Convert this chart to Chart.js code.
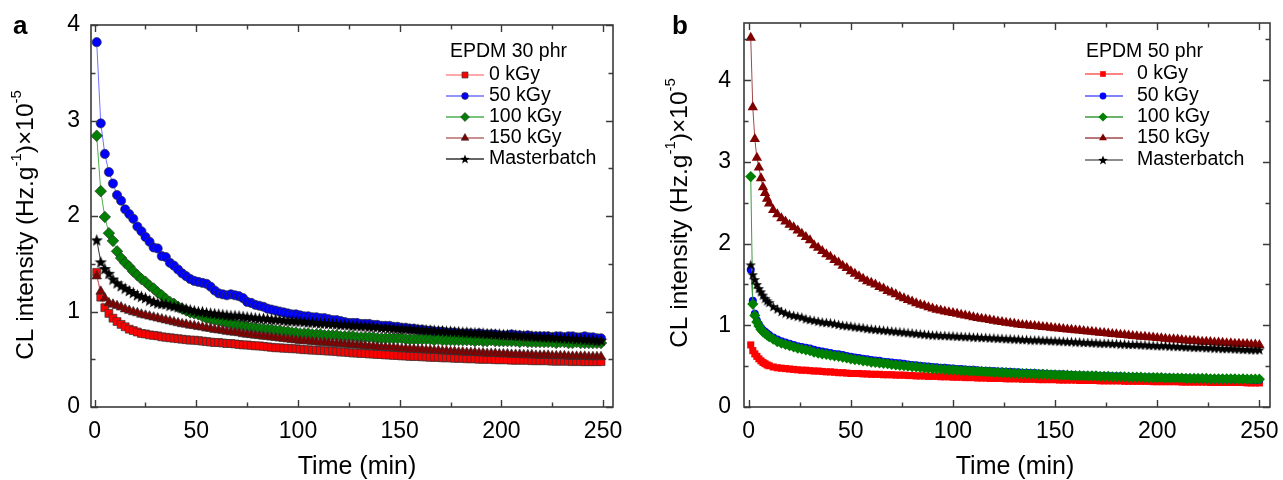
<!DOCTYPE html>
<html>
<head>
<meta charset="utf-8">
<script src="https://cdn.jsdelivr.net/npm/chart.js@4.4.0/dist/chart.umd.min.js"></script>
<style>
  body { margin: 0; background: #fff; }
  #wrap { position: relative; width: 1283px; height: 480px; }
  canvas { position: absolute; top: 0; }
  #calA { left: 0; }
  #calB { left: 640px; }
</style>
</head>
<body>
<div id="wrap">
  <canvas id="calA" width="640" height="480"></canvas>
  <canvas id="calB" width="643" height="480"></canvas>
</div>
<script>
// ---- data (CL intensity x1e-5, Hz/g) ----
const seriesNames = ['0 kGy', '50 kGy', '100 kGy', '150 kGy', 'Masterbatch'];

// panel a : EPDM 30 phr
const timesA = [1,3,5,7,9,11,13,15,17,19,
  21,23,25,27,29,31,33,35,37,39,
  41,43,45,47,49,51,53,55,57,59,
  61,63,65,67,69,71,73,75,77,79,
  81,83,85,87,89,91,93,95,97,99,
  101,103,105,107,109,111,113,115,117,119,
  121,123,125,127,129,131,133,135,137,139,
  141,143,145,147,149,151,153,155,157,159,
  161,163,165,167,169,171,173,175,177,179,
  181,183,185,187,189,191,193,195,197,199,
  201,203,205,207,209,211,213,215,217,219,
  221,223,225,227,229,231,233,235,237,239,
  241,243,245,247,249];

const kGy0A = [1.41,1.15,1.04,0.98,0.93,0.895,0.865,0.84,0.815,0.80,
  0.785,0.77,0.765,0.755,0.75,0.745,0.735,0.73,0.725,0.72,
  0.715,0.71,0.705,0.70,0.70,0.695,0.69,0.685,0.68,0.675,
  0.675,0.67,0.665,0.665,0.66,0.655,0.65,0.65,0.645,0.64,
  0.64,0.635,0.63,0.625,0.62,0.62,0.615,0.615,0.61,0.61,
  0.605,0.60,0.60,0.595,0.595,0.59,0.59,0.585,0.585,0.58,
  0.575,0.575,0.57,0.565,0.565,0.56,0.56,0.555,0.555,0.55,
  0.55,0.545,0.545,0.54,0.54,0.535,0.535,0.53,0.53,0.53,
  0.525,0.525,0.52,0.52,0.52,0.515,0.515,0.515,0.51,0.51,
  0.51,0.505,0.505,0.505,0.50,0.50,0.50,0.50,0.495,0.495,
  0.495,0.495,0.49,0.49,0.49,0.49,0.49,0.485,0.485,0.485,
  0.485,0.485,0.48,0.48,0.48,0.48,0.48,0.475,0.48,0.475,
  0.475,0.475,0.475,0.475,0.475];

const kGy50A = [3.82,2.97,2.65,2.46,2.34,2.22,2.16,2.07,2.02,1.97,
  1.89,1.84,1.78,1.73,1.67,1.66,1.58,1.57,1.51,1.48,
  1.44,1.40,1.37,1.34,1.32,1.31,1.30,1.29,1.26,1.22,
  1.19,1.18,1.17,1.18,1.17,1.16,1.14,1.10,1.09,1.07,
  1.06,1.05,1.03,1.02,1.01,1.00,0.99,0.98,0.97,0.97,
  0.96,0.95,0.95,0.94,0.94,0.93,0.93,0.92,0.91,0.91,
  0.90,0.89,0.88,0.88,0.88,0.87,0.87,0.87,0.86,0.86,
  0.85,0.85,0.85,0.84,0.84,0.83,0.83,0.82,0.82,0.81,
  0.81,0.80,0.80,0.79,0.79,0.79,0.78,0.78,0.78,0.77,
  0.77,0.77,0.77,0.76,0.77,0.76,0.76,0.76,0.76,0.75,
  0.75,0.75,0.76,0.75,0.75,0.74,0.75,0.74,0.74,0.74,
  0.74,0.74,0.73,0.74,0.74,0.73,0.74,0.74,0.73,0.73,
  0.74,0.73,0.73,0.72,0.72];

const kGy100A = [2.84,2.26,1.99,1.82,1.74,1.63,1.56,1.51,1.47,1.42,
  1.38,1.34,1.31,1.27,1.24,1.20,1.17,1.13,1.10,1.08,
  1.05,1.03,1.01,0.99,0.98,0.97,0.95,0.93,0.92,0.91,
  0.90,0.89,0.88,0.87,0.86,0.85,0.85,0.84,0.83,0.83,
  0.82,0.82,0.81,0.81,0.80,0.80,0.79,0.79,0.78,0.78,
  0.77,0.77,0.77,0.76,0.76,0.76,0.75,0.75,0.75,0.75,
  0.74,0.74,0.74,0.74,0.73,0.73,0.73,0.73,0.73,0.72,
  0.72,0.72,0.72,0.72,0.72,0.72,0.71,0.71,0.71,0.71,
  0.71,0.71,0.71,0.70,0.71,0.70,0.70,0.70,0.70,0.70,
  0.70,0.70,0.70,0.69,0.70,0.69,0.69,0.70,0.69,0.69,
  0.69,0.69,0.69,0.69,0.68,0.69,0.68,0.68,0.68,0.68,
  0.68,0.68,0.68,0.67,0.68,0.68,0.67,0.67,0.68,0.67,
  0.67,0.67,0.67,0.67,0.67];

const kGy150A = [1.37,1.21,1.14,1.09,1.075,1.06,1.045,1.025,1.01,0.995,
  0.985,0.97,0.96,0.95,0.94,0.93,0.92,0.91,0.90,0.89,
  0.88,0.87,0.865,0.855,0.85,0.84,0.835,0.825,0.82,0.81,
  0.805,0.80,0.79,0.785,0.78,0.775,0.765,0.76,0.755,0.75,
  0.745,0.74,0.735,0.73,0.725,0.72,0.715,0.71,0.705,0.70,
  0.695,0.69,0.69,0.685,0.68,0.675,0.675,0.67,0.665,0.665,
  0.66,0.655,0.655,0.65,0.645,0.645,0.64,0.635,0.635,0.63,
  0.625,0.625,0.62,0.62,0.615,0.61,0.61,0.605,0.605,0.60,
  0.60,0.595,0.595,0.59,0.59,0.585,0.585,0.58,0.58,0.575,
  0.575,0.57,0.57,0.57,0.565,0.565,0.56,0.56,0.56,0.555,
  0.555,0.555,0.55,0.55,0.55,0.545,0.545,0.545,0.54,0.54,
  0.54,0.54,0.535,0.535,0.535,0.535,0.53,0.53,0.53,0.53,
  0.53,0.525,0.525,0.525,0.525];

const masterA = [1.75,1.52,1.45,1.40,1.34,1.30,1.27,1.245,1.22,1.20,
  1.175,1.16,1.145,1.12,1.105,1.09,1.085,1.08,1.065,1.06,
  1.05,1.04,1.03,1.02,1.01,1.00,1.00,0.99,0.985,0.98,
  0.975,0.97,0.965,0.96,0.96,0.955,0.95,0.945,0.94,0.935,
  0.93,0.93,0.925,0.92,0.92,0.915,0.91,0.905,0.905,0.90,
  0.90,0.895,0.89,0.89,0.885,0.88,0.88,0.875,0.875,0.87,
  0.865,0.865,0.86,0.855,0.855,0.85,0.85,0.845,0.845,0.84,
  0.835,0.835,0.83,0.83,0.825,0.825,0.82,0.82,0.815,0.815,
  0.81,0.81,0.805,0.805,0.80,0.80,0.795,0.795,0.79,0.79,
  0.785,0.785,0.78,0.78,0.775,0.775,0.77,0.77,0.765,0.765,
  0.76,0.76,0.755,0.755,0.75,0.75,0.745,0.745,0.74,0.74,
  0.735,0.735,0.73,0.73,0.725,0.725,0.72,0.72,0.715,0.715,
  0.71,0.71,0.705,0.70,0.70];

// panel b : EPDM 50 phr
const timesB = [1,2,3,4,5,6,7,8,9,10,
  12,14,16,18,20,22,24,26,28,30,
  32,34,36,38,40,42,44,46,48,50,
  52,54,56,58,60,62,64,66,68,70,
  72,74,76,78,80,82,84,86,88,90,
  92,94,96,98,100,102,104,106,108,110,
  112,114,116,118,120,122,124,126,128,130,
  132,134,136,138,140,142,144,146,148,150,
  152,154,156,158,160,162,164,166,168,170,
  172,174,176,178,180,182,184,186,188,190,
  192,194,196,198,200,202,204,206,208,210,
  212,214,216,218,220,222,224,226,228,230,
  232,234,236,238,240,242,244,246,248,250];

const kGy0B = [0.76,0.69,0.65,0.62,0.59,0.565,0.545,0.53,0.515,0.505,
  0.49,0.48,0.475,0.47,0.465,0.46,0.455,0.45,0.45,0.445,
  0.44,0.44,0.435,0.43,0.43,0.425,0.42,0.42,0.415,0.41,
  0.41,0.41,0.405,0.405,0.40,0.40,0.40,0.395,0.395,0.395,
  0.39,0.39,0.39,0.385,0.385,0.38,0.38,0.38,0.375,0.375,
  0.375,0.37,0.37,0.37,0.365,0.365,0.365,0.36,0.36,0.36,
  0.355,0.355,0.355,0.35,0.35,0.35,0.35,0.345,0.345,0.345,
  0.345,0.34,0.34,0.34,0.34,0.335,0.335,0.335,0.335,0.335,
  0.33,0.33,0.33,0.33,0.33,0.325,0.325,0.325,0.325,0.325,
  0.32,0.32,0.32,0.32,0.32,0.32,0.315,0.315,0.315,0.315,
  0.315,0.315,0.315,0.31,0.31,0.31,0.31,0.31,0.31,0.31,
  0.305,0.305,0.305,0.305,0.305,0.305,0.305,0.30,0.30,0.30,
  0.30,0.30,0.30,0.30,0.30,0.30,0.295,0.295,0.295,0.295];

const kGy50B = [1.68,1.30,1.14,1.06,1.01,0.97,0.94,0.92,0.90,0.88,
  0.85,0.825,0.805,0.79,0.775,0.76,0.745,0.735,0.725,0.715,
  0.70,0.69,0.68,0.67,0.66,0.65,0.645,0.635,0.625,0.615,
  0.605,0.60,0.59,0.585,0.575,0.57,0.565,0.555,0.55,0.545,
  0.54,0.535,0.53,0.52,0.515,0.51,0.505,0.50,0.495,0.49,
  0.485,0.48,0.48,0.475,0.47,0.465,0.465,0.46,0.455,0.455,
  0.45,0.445,0.445,0.44,0.44,0.435,0.435,0.43,0.43,0.425,
  0.425,0.42,0.42,0.415,0.415,0.41,0.41,0.405,0.405,0.40,
  0.40,0.40,0.395,0.395,0.39,0.39,0.39,0.385,0.385,0.385,
  0.38,0.38,0.38,0.375,0.375,0.375,0.37,0.37,0.37,0.37,
  0.365,0.365,0.365,0.365,0.36,0.36,0.36,0.36,0.355,0.355,
  0.355,0.355,0.35,0.35,0.35,0.35,0.35,0.345,0.345,0.345,
  0.345,0.345,0.34,0.34,0.34,0.34,0.34,0.335,0.335,0.335];

const kGy100B = [2.82,1.26,1.12,1.04,0.99,0.95,0.92,0.90,0.88,0.86,
  0.83,0.80,0.78,0.765,0.75,0.735,0.72,0.71,0.70,0.69,
  0.67,0.66,0.65,0.645,0.635,0.625,0.62,0.61,0.60,0.59,
  0.58,0.575,0.565,0.56,0.55,0.545,0.54,0.535,0.53,0.52,
  0.515,0.51,0.505,0.50,0.495,0.49,0.485,0.48,0.475,0.47,
  0.465,0.465,0.46,0.455,0.455,0.45,0.445,0.445,0.44,0.44,
  0.435,0.435,0.43,0.43,0.425,0.425,0.42,0.42,0.415,0.415,
  0.41,0.41,0.41,0.405,0.405,0.40,0.40,0.40,0.395,0.395,
  0.39,0.39,0.39,0.385,0.385,0.385,0.38,0.38,0.38,0.38,
  0.375,0.375,0.375,0.37,0.37,0.37,0.37,0.365,0.365,0.365,
  0.365,0.36,0.36,0.36,0.36,0.36,0.355,0.355,0.355,0.355,
  0.355,0.35,0.35,0.35,0.35,0.35,0.35,0.345,0.345,0.345,
  0.345,0.345,0.345,0.345,0.34,0.345,0.34,0.34,0.34,0.34];

const kGy150B = [4.52,3.67,3.28,3.05,2.93,2.80,2.69,2.62,2.55,2.49,
  2.41,2.36,2.31,2.27,2.23,2.20,2.16,2.12,2.08,2.04,
  1.98,1.95,1.91,1.87,1.84,1.80,1.77,1.73,1.70,1.66,
  1.63,1.60,1.57,1.54,1.52,1.50,1.47,1.45,1.42,1.40,
  1.38,1.35,1.33,1.31,1.29,1.27,1.25,1.24,1.22,1.205,
  1.19,1.18,1.17,1.16,1.15,1.14,1.13,1.12,1.11,1.10,
  1.09,1.08,1.075,1.065,1.055,1.045,1.04,1.03,1.025,1.02,
  1.01,1.005,1.00,0.995,0.99,0.985,0.98,0.975,0.97,0.965,
  0.96,0.955,0.95,0.945,0.94,0.935,0.93,0.925,0.92,0.915,
  0.91,0.905,0.90,0.895,0.89,0.885,0.88,0.875,0.87,0.865,
  0.86,0.86,0.855,0.85,0.845,0.84,0.835,0.83,0.83,0.825,
  0.82,0.815,0.81,0.81,0.805,0.80,0.80,0.795,0.79,0.79,
  0.785,0.78,0.78,0.775,0.775,0.77,0.77,0.765,0.765,0.76];

const masterB = [1.74,1.62,1.56,1.50,1.45,1.41,1.37,1.33,1.30,1.28,
  1.23,1.20,1.17,1.15,1.13,1.12,1.11,1.10,1.08,1.07,
  1.06,1.05,1.04,1.035,1.03,1.02,1.01,1.00,0.995,0.99,
  0.98,0.975,0.97,0.96,0.955,0.95,0.945,0.94,0.935,0.93,
  0.925,0.92,0.915,0.91,0.905,0.90,0.895,0.89,0.885,0.88,
  0.88,0.875,0.875,0.87,0.87,0.865,0.865,0.86,0.86,0.855,
  0.855,0.85,0.85,0.845,0.845,0.84,0.84,0.835,0.835,0.83,
  0.83,0.825,0.825,0.82,0.82,0.82,0.815,0.815,0.81,0.81,
  0.805,0.805,0.80,0.80,0.795,0.795,0.79,0.79,0.785,0.785,
  0.78,0.78,0.78,0.775,0.775,0.77,0.77,0.765,0.765,0.765,
  0.76,0.76,0.755,0.755,0.75,0.75,0.75,0.745,0.745,0.74,
  0.74,0.735,0.735,0.73,0.73,0.73,0.725,0.725,0.72,0.72,
  0.715,0.715,0.715,0.71,0.71,0.705,0.705,0.70,0.70,0.70];

// ---- styling ----
const FONT = '"Liberation Sans", Arial, Helvetica, sans-serif';
const markerColors = ['#ff0000', '#0000ff', '#008000', '#800000', '#000000'];

function makeStar(size, fill){
  const c = document.createElement('canvas');
  c.width = size; c.height = size;
  const g = c.getContext('2d');
  const cx = size / 2, cy = size / 2 + size * 0.05, R = size / 2, r = R * 0.42;
  g.beginPath();
  for (let k = 0; k < 10; k++) {
    const ang = -Math.PI / 2 + k * Math.PI / 5;
    const rr = k % 2 ? r : R;
    g.lineTo(cx + rr * Math.cos(ang), cy + rr * Math.sin(ang));
  }
  g.closePath();
  g.fillStyle = fill;
  g.fill();
  return c;
}

const styleA = {
  lines: ['#ff8c8c', '#7070ff', '#4caf50', '#b86a6a', '#333333'],
  shapes: ['rect', 'circle', 'rectRot', 'triangle', makeStar(13, '#000')],
  radii: [5.6, 4.6, 5.8, 5.6, 5],
  lgRadii: [4.2, 3.4, 4.4, 4.4, 5],
  lgShapes: ['rect', 'circle', 'rectRot', 'triangle', makeStar(10, '#000')],
  edge: 'rgba(50,50,50,0.85)',
  edgeW: 0.8
};
const styleB = {
  lines: ['#ff5a5a', '#5a5aff', '#3a9a3a', '#a04848', '#666666'],
  shapes: ['rect', 'circle', 'rectRot', 'triangle', makeStar(11, '#000')],
  radii: [5, 4, 5.6, 6, 5],
  lgRadii: [4, 3.4, 4.6, 4.6, 4],
  lgShapes: ['rect', 'circle', 'rectRot', 'triangle', makeStar(10, '#000')],
  edge: 'rgba(0,0,0,0)',
  edgeW: 0
};

function buildSets(times, list, st){
  return list.map((vals, i) => ({
    label: seriesNames[i],
    data: vals.map((v, k) => ({ x: times[k], y: v })),
    borderColor: st.lines[i],
    borderWidth: 1,
    pointStyle: st.shapes[i],
    pointRadius: st.radii[i],
    pointBackgroundColor: markerColors[i],
    pointBorderColor: st.edge,
    pointBorderWidth: st.edgeW,
    order: 4 - i,
    tension: 0,
    fill: false
  }));
}

function drawYTitle(ctx, cx, cy, size){
  const parts = [['CL intensity (Hz.g', false], ['-1', true], [')\u00d710', false], ['-5', true]];
  const big = size + 'px ' + FONT;
  const small = Math.round(size * 0.62) + 'px ' + FONT;
  ctx.save();
  ctx.translate(cx, cy);
  ctx.rotate(-Math.PI / 2);
  let w = 0;
  parts.forEach(p => { ctx.font = p[1] ? small : big; w += ctx.measureText(p[0]).width; });
  let x = -w / 2;
  ctx.textBaseline = 'middle';
  ctx.textAlign = 'left';
  ctx.fillStyle = '#000';
  parts.forEach(p => {
    ctx.font = p[1] ? small : big;
    ctx.fillText(p[0], x, p[1] ? -size * 0.36 : 0);
    x += ctx.measureText(p[0]).width;
  });
  ctx.restore();
}

// frame, inward ticks, titles, legend, panel letter
const decor = {
  id: 'decor',
  afterDatasetsDraw(chart, args, o){
    const { ctx, chartArea: a, scales: { x, y } } = chart;
    ctx.save();
    ctx.strokeStyle = '#3a3a3a';
    ctx.lineWidth = 1.6;
    ctx.strokeRect(a.left, a.top, a.right - a.left, a.bottom - a.top);
    ctx.lineWidth = 1.4;
    ctx.beginPath();
    x.ticks.forEach(t => {
      const px = Math.round(x.getPixelForValue(t.value)) + 0.5;
      const len = t.value % 50 === 0 ? 7 : 4.5;
      ctx.moveTo(px, a.bottom); ctx.lineTo(px, a.bottom - len);
      ctx.moveTo(px, a.top); ctx.lineTo(px, a.top + len);
    });
    y.ticks.forEach(t => {
      const py = Math.round(y.getPixelForValue(t.value)) + 0.5;
      const len = Number.isInteger(t.value) ? 7 : 4.5;
      ctx.moveTo(a.left, py); ctx.lineTo(a.left + len, py);
      ctx.moveTo(a.right, py); ctx.lineTo(a.right - len, py);
    });
    ctx.stroke();
    ctx.restore();
  },
  afterDraw(chart, args, o){
    const ctx = chart.ctx;
    ctx.save();
    // axis titles
    ctx.fillStyle = '#000';
    ctx.font = '25px ' + FONT;
    ctx.textAlign = 'center';
    ctx.textBaseline = 'middle';
    ctx.fillText('Time (min)', o.xTitleX, 467);
    drawYTitle(ctx, o.yTitleX, o.yTitleY, 24.5);
    // panel letter
    ctx.font = 'bold 26px ' + FONT;
    ctx.textAlign = 'left';
    ctx.textBaseline = 'alphabetic';
    ctx.fillText(o.letter, o.letterX, 34);
    // legend
    ctx.font = '19.5px ' + FONT;
    ctx.textBaseline = 'middle';
    ctx.fillText(o.lgTitle, o.lgTitleX, 52);
    chart.data.datasets.forEach((ds, i) => {
      const yy = o.lgRows[i];
      ctx.strokeStyle = ds.borderColor;
      ctx.lineWidth = 1.3;
      ctx.beginPath();
      ctx.moveTo(o.lgLine[0], yy);
      ctx.lineTo(o.lgLine[1], yy);
      ctx.stroke();
      ctx.fillStyle = ds.pointBackgroundColor;
      ctx.strokeStyle = ds.pointBorderColor;
      ctx.lineWidth = ds.pointBorderWidth || 0;
      Chart.helpers.drawPoint(ctx, {
        pointStyle: o.st.lgShapes[i], radius: o.st.lgRadii[i],
        borderWidth: ds.pointBorderWidth || 0, rotation: 0
      }, o.lgMarkX, yy);
      ctx.fillStyle = '#000';
      ctx.fillText(ds.label, o.lgTextX, yy);
    });
    ctx.restore();
  }
};

function makeChart(id, times, list, st, p){
  const canvas = document.getElementById(id);
  if (!canvas) { console.warn('canvas not found', id); return; }
  return new Chart(canvas.getContext('2d'), {
    type: 'line',
    data: { datasets: buildSets(times, list, st) },
    plugins: [decor],
    options: {
      responsive: false,
      animation: false,
      devicePixelRatio: 1,
      layout: { autoPadding: false, padding: { left: 0, top: p.top, right: p.right, bottom: 0 } },
      scales: {
        x: {
          type: 'linear', min: p.xMin, max: p.xMax,
          grid: { display: false, drawTicks: false }, border: { display: false },
          ticks: {
            stepSize: 25, includeBounds: false, autoSkip: false, maxRotation: 0,
            padding: 11, color: '#000', font: { family: FONT, size: 23 },
            callback: v => (v % 50 === 0 ? String(v) : '')
          },
          afterFit: s => { s.height = 73; s.paddingLeft = 0; s.paddingRight = 0; }
        },
        y: {
          type: 'linear', min: 0, max: p.yMax,
          grid: { display: false, drawTicks: false }, border: { display: false },
          ticks: {
            stepSize: 0.5, includeBounds: false, autoSkip: false,
            padding: p.yPad, color: '#000', font: { family: FONT, size: 23 },
            callback: v => (Number.isInteger(v) ? String(v) : '')
          },
          afterFit: s => { s.width = p.yWidth; s.paddingTop = 0; s.paddingBottom = 0; }
        }
      },
      plugins: {
        legend: { display: false },
        tooltip: { enabled: false },
        decor: p.decor
      }
    }
  });
}

makeChart('calA', timesA, [kGy0A, kGy50A, kGy100A, kGy150A, masterA], styleA, {
  xMin: -1.8, xMax: 254.9, yMax: 4, top: 25, right: 27, yWidth: 91, yPad: 11,
  decor: {
    st: styleA, letter: 'a', letterX: 13, xTitleX: 357, yTitleX: 26, yTitleY: 225,
    lgTitle: 'EPDM 30 phr', lgTitleX: 450, lgRows: [75, 96, 117, 138, 159],
    lgLine: [446, 484], lgMarkX: 465, lgTextX: 489
  }
});

makeChart('calB', timesB, [kGy0B, kGy50B, kGy100B, kGy150B, masterB], styleB, {
  xMin: -2.3, xMax: 255.2, yMax: 4.7, top: 23, right: 13, yWidth: 104, yPad: 13,
  decor: {
    st: styleB, letter: 'b', letterX: 32, xTitleX: 375, yTitleX: 40, yTitleY: 213,
    lgTitle: 'EPDM 50 phr', lgTitleX: 446, lgRows: [74, 96, 117, 138, 160],
    lgLine: [445, 483], lgMarkX: 463, lgTextX: 497
  }
});
</script>
</body>
</html>
